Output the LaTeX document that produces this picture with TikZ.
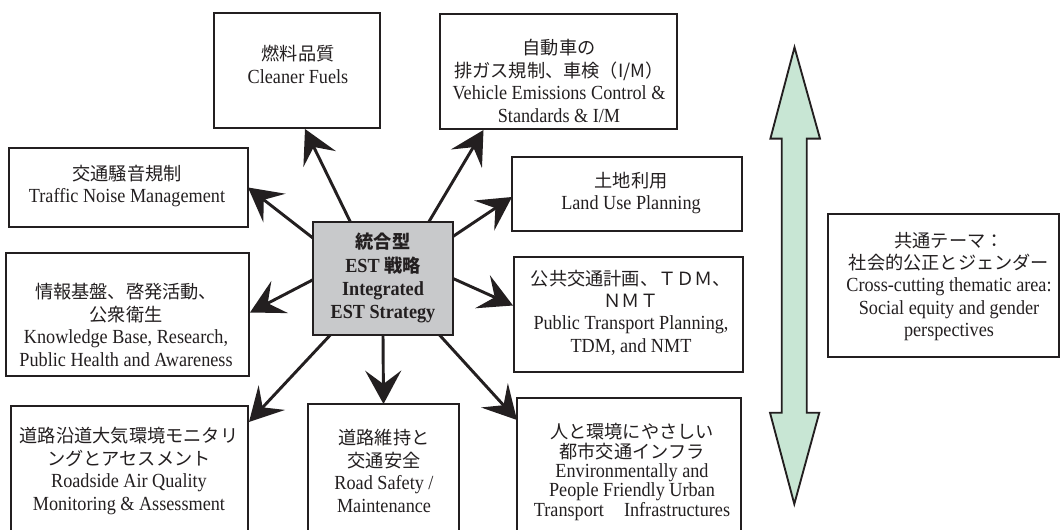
\documentclass[tikz,border=0pt]{standalone}
\usepackage{fontspec}
\setmainfont[FakeStretch=0.91]{Liberation Serif}
\newfontfamily\jp[Scale=0.91]{Noto Sans CJK JP}
\usetikzlibrary{arrows.meta,calc}
\definecolor{boxgray}{RGB}{200,201,203}
\definecolor{mint}{RGB}{200,230,212}
\definecolor{ink}{RGB}{35,31,32}
\begin{document}
\begin{tikzpicture}[x=0.75pt,y=-0.75pt,
  box/.style={draw=ink, line width=1.4pt, inner sep=0pt, outer sep=0pt},
  txt/.style={align=center, inner sep=0pt, text=ink, font=\fontsize{15pt}{16.8pt}\selectfont},
  conn/.style={draw=ink, line width=2.2pt, -{Stealth[length=25pt, width=27pt, inset=10pt]}}]
\useasboundingbox (0,0) rectangle (1060,530);
\clip (0,0) rectangle (1060,530);
% boxes
\node[box, minimum width=124.5pt, minimum height=86.25pt] (fuels) at (297,70.5) {};
\node[box, minimum width=177.75pt, minimum height=86.25pt] (veh) at (558.5,71.5) {};
\node[box, minimum width=179.25pt, minimum height=59.25pt] (traf) at (128.5,187.5) {};
\node[box, minimum width=182.25pt, minimum height=92.25pt] (know) at (127.5,314.5) {};
\node[box, fill=boxgray, minimum width=105pt, minimum height=84.75pt] (ctr) at (383,278.5) {};
\node[box, minimum width=172.5pt, minimum height=55.5pt] (land) at (627,194) {};
\node[box, minimum width=171.75pt, minimum height=86.25pt] (pub) at (628.5,314.5) {};
\node[box, minimum width=177.75pt, minimum height=105pt] (road) at (129.5,476) {};
\node[box, minimum width=113.25pt, minimum height=106.5pt] (safe) at (383.5,475) {};
\node[box, minimum width=168pt, minimum height=111pt] (urb) at (629,472) {};
\node[box, minimum width=173.25pt, minimum height=107.25pt] (cross) at (943.5,285.5) {};
% texts
\node[txt] (tfuels) at (298,64.5) {{\jp 燃料品質}\\Cleaner Fuels};
\node[txt] (tveh) at (559,81) {{\jp 自動車の}\\{\jp 排ガス規制、車検（I/M）}\\Vehicle Emissions Control \&\\Standards \& I/M};
\node[txt] (ttraf) at (127,186) {{\jp 交通騒音規制}\\Traffic Noise Management};
\node[txt] (tknow) at (126,325) {{\jp 情報基盤、啓発活動、}\\{\jp 公衆衛生}\\Knowledge Base, Research,\\Public Health and Awareness};
\node[txt, font=\fontsize{15pt}{17.3pt}\selectfont\bfseries] (tctr) at (383,278) {{\jp\bfseries 統合型}\\EST {\jp\bfseries 戦略}\\Integrated\\EST Strategy};
\node[txt] (tland) at (631,193) {{\jp 土地利用}\\Land Use Planning};
\node[txt] (tpub) at (631,312.5) {{\jp 公共交通計画、ＴＤＭ、}\\{\jp ＮＭＴ}\\Public Transport Planning,\\TDM, and NMT};
\node[txt] (troad) at (129,471) {{\jp 道路沿道大気環境モニタリ}\\{\jp ングとアセスメント}\\Roadside Air Quality\\Monitoring \& Assessment};
\node[txt] (tsafe) at (384,471) {{\jp 道路維持と}\\{\jp 交通安全}\\Road Safety /\\Maintenance};
\node[txt, font=\fontsize{15pt}{14.6pt}\selectfont] (turb) at (632,472) {{\jp 人と環境にやさしい}\\{\jp 都市交通インフラ}\\Environmentally and\\People Friendly Urban\\Transport\quad Infrastructures};
\node[txt] (tcross) at (949,286.5) {{\jp 共通テーマ：}\\{\jp 社会的公正とジェンダー}\\Cross-cutting thematic area:\\Social equity and gender\\perspectives};
% connectors
\draw[conn] (ctr.120) -- ($(fuels.south)+(8,1)$);
\draw[conn] (ctr.51.5) -- ($(veh.south)+(-75,1)$);
\draw[conn] (ctr.150) -- (traf.east);
\draw[conn] (ctr.181) -- ($(know.east)+(1,-2)$);
\draw[conn] (ctr.227) -- ($(road.north east)+(1,16)$);
\draw[conn] (ctr.south) -- (safe.north);
\draw[conn] (ctr.315) -- ($(urb.north west)+(0,22)$);
\draw[conn] (ctr.31) -- ($(land.west)+(0,3)$);
\draw[conn] (ctr.0) -- ($(pub.west)+(-1,-9)$);
% cross-cutting double arrow
\draw[draw=ink, fill=mint, line width=1.4pt, line join=miter]
  (794.5,47.3) -- (820,138.6) -- (806.7,138.6) -- (806.7,412.7) -- (819.3,412.7)
  -- (794.3,504) -- (770,412.7) -- (781.7,412.7) -- (781.7,138.6) -- (770.4,138.6) -- cycle;
\end{tikzpicture}
\end{document}
